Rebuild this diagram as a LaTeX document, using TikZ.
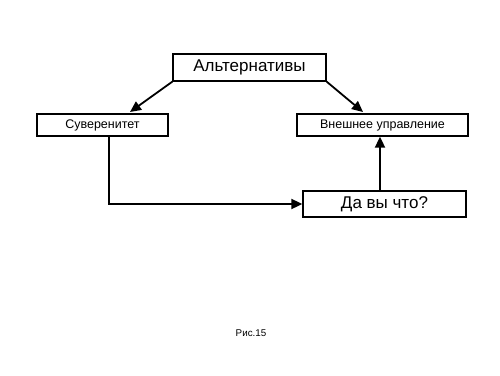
\documentclass[tikz,border=0pt]{standalone}
\usepackage{fontspec}
\setmainfont{Liberation Sans}
\usetikzlibrary{arrows.meta}
\begin{document}
\begin{tikzpicture}[x=1pt,y=-1pt,
  box/.style={draw=black,line width=1.3pt,fill=white,inner sep=0pt},
  conn/.style={line width=1.8pt,-{Triangle[length=11pt,width=10pt]}}]
\useasboundingbox[fill=white] (0,0) rectangle (500,375);
\node[box,minimum width=153pt,minimum height=27pt,font=\fontsize{17}{18}\selectfont] (alt) at (249.5,67.5) {Альтернативы};
\node[box,minimum width=131pt,minimum height=22pt,font=\fontsize{12.5}{13}\selectfont] (sov) at (102.5,125) {Суверенитет};
\node[box,minimum width=171pt,minimum height=22pt,font=\fontsize{12.5}{13}\selectfont] (vne) at (382.5,125) {Внешнее управление};
\node[box,minimum width=163pt,minimum height=26pt,font=\fontsize{17}{18}\selectfont] (da) at (384.5,204) {Да вы что?};
\node[font=\fontsize{9.8}{10}\selectfont] (ris) at (251,333) {Рис.15};
\draw[conn] (alt.south west) -- (130,112);
\draw[conn] (alt.south east) -- (363,112);
\draw[conn] (sov.south west -| 109,0) |- (da.west);
\draw[conn] (da.north -| 380,0) -- (vne.south -| 380,0);
\end{tikzpicture}
\end{document}
